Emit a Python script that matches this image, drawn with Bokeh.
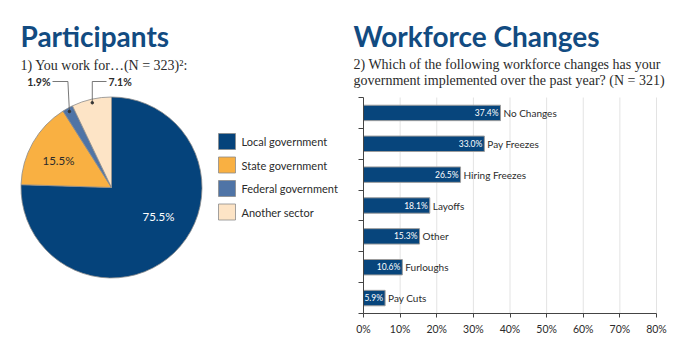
import math
from bokeh.plotting import figure
from bokeh.layouts import row
from bokeh.models import Range1d, FixedTicker, LinearAxis
from bokeh.core.properties import value
from bokeh.embed import file_html
from bokeh.resources import INLINE

# ---------------- data ----------------
pie_categories = ["Local government", "State government", "Federal government", "Another sector"]
pie_values = [75.5, 15.5, 1.9, 7.1]
pie_colors = ["#05437b", "#f9b042", "#4f74a6", "#fde4c6"]

bar_categories = ["No Changes", "Pay Freezes", "Hiring Freezes", "Layoffs", "Other", "Furloughs", "Pay Cuts"]
bar_values = [37.4, 33.0, 26.5, 18.1, 15.3, 10.6, 5.9]
x_ticks = [0, 10, 20, 30, 40, 50, 60, 70, 80]
x_tick_labels = ["0%", "10%", "20%", "30%", "40%", "50%", "60%", "70%", "80%"]

title_left = "Participants"
subtitle_left = "1) You work for\u2026(N = 323)\u00b2:"
title_right = "Workforce Changes"
subtitle_right = ["2) Which of the following workforce changes has your",
                  "government implemented over the past year? (N = 321)"]

TITLE_COLOR = "#124b81"
TEXT = "#2b2b2b"
SANS = "Lato"
SERIF = "Liberation Serif"
H = 341

def base_fig(w, xr, yr):
    p = figure(width=w, height=H, x_range=xr, y_range=yr, output_backend="svg",
               toolbar_location=None, min_border=0, x_axis_location=None, y_axis_location=None)
    p.title.visible = False
    p.grid.visible = False
    p.outline_line_color = None
    p.background_fill_color = "white"
    p.border_fill_color = "white"
    return p

# ---------------- left: pie (pixel space) ----------------
left = base_fig(340, Range1d(0, 340), Range1d(0, H))

def py(v):
    return H - v

left.text(x=[20], y=[py(35)], text=[title_left], text_font=value(SANS), text_font_style="bold",
          text_font_size=value("28px"), text_color=TITLE_COLOR, text_baseline="alphabetic")
left.text(x=[20], y=[py(65)], text=[subtitle_left], text_font=value(SERIF),
          text_font_size=value("14px"), text_color=TEXT, text_baseline="alphabetic")

cx, cy, R = 111, py(187), 90.5
total = sum(pie_values)
cum = [0.0]
for v in pie_values:
    cum.append(cum[-1] + v / total)
starts = [math.pi / 2 - 2 * math.pi * c for c in cum[:-1]]
ends = [math.pi / 2 - 2 * math.pi * c for c in cum[1:]]
left.wedge(x=cx, y=cy, radius=R, start_angle=starts, end_angle=ends, direction="clock",
           fill_color=pie_colors, line_color="#8c8c8c", line_width=0.8)

labels = ["%.1f%%" % v for v in pie_values]
left.text(x=[158], y=[py(216)], text=[labels[0]], text_font=value(SANS), text_font_size=value("11.5px"),
          text_color="white", text_align="center", text_baseline="middle")
left.text(x=[58], y=[py(160)], text=[labels[1]], text_font=value(SANS), text_font_size=value("11.5px"),
          text_color=TEXT, text_align="center", text_baseline="middle")

def mid_point(i, rf=0.96):
    m = (cum[i] + cum[i + 1]) / 2
    a = math.pi / 2 - 2 * math.pi * m
    return cx + rf * R * math.cos(a), cy + rf * R * math.sin(a)

ly = py(81)
fx, fy = mid_point(2)
left.line(x=[fx, fx - 1.5, 52], y=[fy, ly, ly], line_color="#555555", line_width=0.8)
left.scatter(x=[fx], y=[fy], size=2.5, color="#333333")
left.text(x=[50], y=[ly], text=[labels[2]], text_font=value(SANS), text_font_style="bold",
          text_font_size=value("10.5px"), text_color=TEXT, text_align="right", text_baseline="middle")
ax_, ay_ = mid_point(3)
left.line(x=[ax_, ax_, 106], y=[ay_, ly, ly], line_color="#555555", line_width=0.8)
left.scatter(x=[ax_], y=[ay_], size=2.5, color="#333333")
left.text(x=[108], y=[ly], text=[labels[3]], text_font=value(SANS), text_font_style="bold",
          text_font_size=value("10.5px"), text_color=TEXT, text_align="left", text_baseline="middle")

leg_y = [py(141 + 23.5 * i) for i in range(len(pie_categories))]
left.rect(x=226.5, y=leg_y, width=17, height=16, fill_color=pie_colors, line_color="#8c8c8c", line_width=0.8)
left.text(x=241, y=leg_y, text=pie_categories, text_font=value(SANS), text_font_size=value("11px"),
          text_color=TEXT, text_align="left", text_baseline="middle")

# ---------------- right: bars ----------------
X0, X1 = 363.0, 656.0      # page x of 0% and 80%
Y0, Y1 = 97.0, 313.0       # page y of top and bottom of the category band
n = len(bar_categories)
xmax = x_ticks[-1]
kx = (X1 - X0) / xmax
ky = (Y1 - Y0) / n

def xd(px):
    return (px - X0) / kx

def yd(pv):
    return (pv - Y0) / ky

right = base_fig(335, Range1d(xd(340), xd(675)), Range1d(yd(341), yd(0)))

right.segment(x0=x_ticks[1:], y0=0, x1=x_ticks[1:], y1=n, line_color="#e3e3e3", line_width=1)

ys = [i + 0.5 for i in range(n)]
right.hbar(y=ys, left=0, right=bar_values, height=0.5, fill_color="#07457c",
           line_color="#9c9c9c", line_width=1)
right.text(x=bar_values, y=ys, text=["%.1f%%" % v for v in bar_values], x_offset=-2,
           text_font=value(SANS), text_font_size=value("8.5px"), text_color="white",
           text_align="right", text_baseline="middle")
right.text(x=bar_values, y=ys, text=bar_categories, x_offset=3,
           text_font=value(SANS), text_font_size=value("10px"), text_color=TEXT,
           text_align="left", text_baseline="middle")

xaxis = LinearAxis(fixed_location=n, bounds=(0, xmax), ticker=FixedTicker(ticks=x_ticks),
                   major_label_overrides=dict(zip(x_ticks, x_tick_labels)),
                   major_label_text_font=SANS, major_label_text_font_size="10.5px",
                   major_label_text_color=TEXT, major_label_standoff=5,
                   major_tick_out=4, major_tick_in=0, minor_tick_line_color=None,
                   axis_line_color="#444444", major_tick_line_color="#444444")
right.add_layout(xaxis, "below")

yaxis = LinearAxis(fixed_location=0, bounds=(0, n), ticker=FixedTicker(ticks=list(range(n + 1))),
                   major_label_overrides={i: "" for i in range(n + 1)},
                   major_tick_out=5, major_tick_in=0, minor_tick_line_color=None,
                   axis_line_color="#444444", major_tick_line_color="#444444")
right.add_layout(yaxis, "left")

right.text(x=[xd(353)], y=[yd(35)], text=[title_right], text_font=value(SANS), text_font_style="bold",
           text_font_size=value("28px"), text_color=TITLE_COLOR, text_baseline="alphabetic")
right.text(x=[xd(353)] * 2, y=[yd(64), yd(80)], text=subtitle_right, text_font=value(SERIF),
           text_font_size=value("14px"), text_color=TEXT, text_baseline="alphabetic")

layout = row(left, right)
open("out.html", "w").write(file_html(layout, INLINE))
